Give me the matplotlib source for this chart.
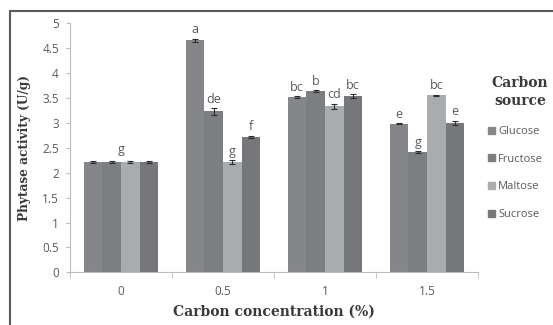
import numpy as np
import matplotlib
matplotlib.use("Agg")
from matplotlib import pyplot as plt
from matplotlib.patches import Rectangle, Patch

# Data
concentrations = ['0', '0.5', '1', '1.5']
sources = ['Glucose', 'Fructose', 'Maltose', 'Sucrose']
glucose = [2.22, 4.66, 3.52, 2.98]
fructose = [2.22, 3.23, 3.64, 2.41]
maltose = [2.22, 2.21, 3.33, 3.56]
sucrose = [2.22, 2.72, 3.54, 3.00]
glucose_err = [0.02, 0.03, 0.02, 0.01]
fructose_err = [0.02, 0.07, 0.02, 0.02]
maltose_err = [0.02, 0.04, 0.06, 0.01]
sucrose_err = [0.02, 0.02, 0.04, 0.04]
glucose_lbl = ['', 'a', 'bc', 'e']
fructose_lbl = ['', 'de', 'b', 'g']
maltose_lbl = ['', 'g', 'cd', 'bc']
sucrose_lbl = ['', 'f', 'bc', 'e']
group_lbl = ['g', '', '', '']

colors = ['#85868a', '#7d7e82', '#a9acaf', '#76777b']
grey_txt = '#5a5a5a'
axis_grey = '#bcbcbc'

series = [glucose, fructose, maltose, sucrose]
errors = [glucose_err, fructose_err, maltose_err, sucrose_err]
letters = [glucose_lbl, fructose_lbl, maltose_lbl, sucrose_lbl]

fig = plt.figure(figsize=(5.53, 3.25), dpi=100)
ax = fig.add_axes([70/553, 52.7/325, 408/553, 0.766])

x = np.arange(len(concentrations))
w = 0.182
for i in range(4):
    pos = x + (i - 1.5) * w
    ax.bar(pos, series[i], w, color=colors[i], label=sources[i], zorder=2)
    ax.errorbar(pos, series[i], yerr=errors[i], fmt='none', ecolor='#2e2e2e',
                elinewidth=0.8, capsize=2, capthick=0.8, zorder=3)
    for j in range(len(x)):
        if letters[i][j]:
            ax.text(pos[j], series[i][j] + errors[i][j] + 0.11, letters[i][j],
                    ha='center', va='baseline', fontsize=9, color=grey_txt,
                    family='Open Sans')

# single letter for the 0% group
for j in range(len(x)):
    if group_lbl[j]:
        top = max(s[j] + e[j] for s, e in zip(series, errors))
        ax.text(x[j], top + 0.16, group_lbl[j], ha='center', va='baseline',
                fontsize=9, color=grey_txt, family='Open Sans')

ax.set_xlim(-0.5, 3.5)
ax.set_ylim(0, 5)
ax.set_yticks(np.arange(0, 5.01, 0.5))
ax.set_yticklabels(['0', '0.5', '1', '1.5', '2', '2.5', '3', '3.5', '4', '4.5', '5'])
ax.set_xticks(x)
ax.set_xticklabels(concentrations)
ax.set_xticks(np.arange(-0.5, 3.6, 1), minor=True)
ax.tick_params(axis='x', which='major', length=0, pad=9, labelsize=8.5, labelcolor=grey_txt)
ax.tick_params(axis='x', which='minor', length=4, color=axis_grey)
ax.tick_params(axis='y', length=3, color=axis_grey, labelsize=8.5, labelcolor=grey_txt, pad=5)
for lab in ax.get_xticklabels() + ax.get_yticklabels():
    lab.set_family('Open Sans')
for s in ['top', 'right']:
    ax.spines[s].set_visible(False)
for s in ['left', 'bottom']:
    ax.spines[s].set_color(axis_grey)

ax.set_xlabel('Carbon concentration (%)', family='DejaVu Serif', fontweight='bold',
              fontsize=10, color='#3a3a3a', labelpad=5)
ax.set_ylabel('Phytase activity (U/g)', family='DejaVu Serif', fontweight='bold',
              fontsize=8.7, color='#3a3a3a', labelpad=8)

# legend
fig.text(520/553, 1 - 92/325, 'Carbon\nsource', ha='center', va='center',
         family='DejaVu Serif', fontweight='bold', fontsize=10, color='#3a3a3a',
         linespacing=1.3)
handles = [Patch(color=c) for c in colors]
leg = fig.legend(handles, sources, loc='upper left', bbox_to_anchor=(478/553, 1 - 116/325),
                 frameon=False, handlelength=0.6, handleheight=0.6, handletextpad=0.3,
                 labelspacing=1.5, prop={'family': 'Open Sans', 'size': 8})
for t in leg.get_texts():
    t.set_color(grey_txt)

# outer frame, cut off at right and bottom like the source image
fig.add_artist(Rectangle((10/553, -0.1), 1.2, 1.1 - 11/325, fill=False,
                         transform=fig.transFigure, lw=1.5, ec='#5a5a5a'))

fig.savefig('out.png', dpi=100)
